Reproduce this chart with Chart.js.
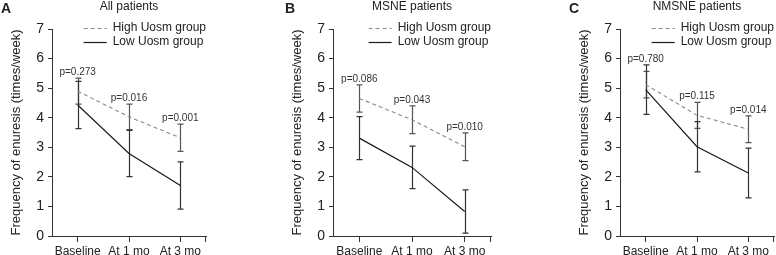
<!DOCTYPE html>
<html><head><meta charset="utf-8">
<script src="https://cdn.jsdelivr.net/npm/chart.js@4"></script>
<style>
html,body{margin:0;padding:0;background:#fff;width:776px;height:255px;overflow:hidden;position:relative}
canvas{position:absolute;top:0}
</style></head><body>
<canvas id="cA" width="208" height="255" style="left:0px"></canvas>
<canvas id="cB" width="212" height="255" style="left:281px"></canvas>
<canvas id="cC" width="208" height="255" style="left:568px"></canvas>
<script>
// ---- data ----
const categories = ['Baseline', 'At 1 mo', 'At 3 mo'];
const seriesNames = ['High Uosm group', 'Low Uosm group'];
const yAxisTitle = 'Frequency of enuresis (times/week)';
const panelTitles = ['All patients', 'MSNE patients', 'NMSNE patients'];
const panelLetters = ['A', 'B', 'C'];

const highA = [4.90, 4.03, 3.32];
const highErrA = [0.44, 0.43, 0.46];
const lowA = [4.43, 2.79, 1.71];
const lowErrA = [0.80, 0.78, 0.80];
const pA = ['p=0.273', 'p=0.016', 'p=0.001'];

const highB = [4.65, 3.93, 3.02];
const highErrB = [0.46, 0.47, 0.47];
const lowB = [3.31, 2.32, 0.83];
const lowErrB = [0.73, 0.72, 0.73];
const pB = ['p=0.086', 'p=0.043', 'p=0.010'];

const highC = [5.12, 4.08, 3.61];
const highErrC = [0.45, 0.44, 0.45];
const lowC = [4.95, 3.02, 2.13];
const lowErrC = [0.84, 0.85, 0.84];
const pC = ['p=0.780', 'p=0.115', 'p=0.014'];

// ---- drawing ----
const FONT = "'Liberation Sans', Arial, Helvetica, sans-serif";
const TXT = '#222';
const AXIS = '#333';

const decor = {
  id: 'decor',
  beforeDatasetsDraw(chart) {
    const ctx = chart.ctx, xs = chart.scales.x, ys = chart.scales.y;
    ctx.save();
    chart.data.datasets.forEach(ds => {
      ctx.strokeStyle = ds.errColor;
      ctx.lineWidth = 1.2;
      ds.data.forEach((v, i) => {
        const px = Math.round(xs.getPixelForValue(i)) + 0.5;
        const t = ys.getPixelForValue(v + ds.err[i]);
        const b = ys.getPixelForValue(v - ds.err[i]);
        ctx.beginPath();
        ctx.moveTo(px, t); ctx.lineTo(px, b);
        ctx.moveTo(px - 3, t); ctx.lineTo(px + 3, t);
        ctx.moveTo(px - 3, b); ctx.lineTo(px + 3, b);
        ctx.stroke();
      });
    });
    ctx.restore();
  },
  afterDraw(chart) {
    const o = chart.options.plugins.decor;
    const ctx = chart.ctx, xs = chart.scales.x, ys = chart.scales.y, a = chart.chartArea;
    ctx.save();
    // right-end tick of x axis
    ctx.strokeStyle = AXIS; ctx.lineWidth = 1;
    ctx.beginPath();
    ctx.moveTo(Math.round(a.right) - 0.5, a.bottom); ctx.lineTo(Math.round(a.right) - 0.5, a.bottom + 6);
    ctx.stroke();
    // title
    ctx.fillStyle = TXT;
    ctx.font = '12px ' + FONT;
    ctx.textAlign = 'center'; ctx.textBaseline = 'middle';
    ctx.fillText(o.title, (a.left + a.right) / 2, 7);
    // letter
    ctx.font = 'bold 14px ' + FONT;
    ctx.textAlign = 'left'; ctx.textBaseline = 'middle';
    ctx.fillText(o.letter, o.letterX, 9);
    // legend
    ctx.font = '12px ' + FONT;
    const w = Math.max(...seriesNames.map(s => ctx.measureText(s).width));
    const tx = a.right - w;
    const rows = [28, 42];
    chart.data.datasets.forEach((ds, k) => {
      ctx.strokeStyle = ds.borderColor; ctx.lineWidth = ds.borderWidth;
      ctx.setLineDash(ds.borderDash || []);
      ctx.beginPath();
      ctx.moveTo(tx - 29, rows[k] + 0.5); ctx.lineTo(tx - 6, rows[k] + 0.5);
      ctx.stroke();
      ctx.setLineDash([]);
      ctx.fillStyle = TXT;
      ctx.textAlign = 'left'; ctx.textBaseline = 'middle';
      ctx.fillText(ds.label, tx, rows[k]);
    });
    // p-values
    ctx.font = '10px ' + FONT;
    ctx.textAlign = 'center'; ctx.textBaseline = 'middle';
    ctx.fillStyle = '#333';
    o.pvals.forEach((p, i) => {
      let top = -Infinity;
      chart.data.datasets.forEach(ds => { top = Math.max(top, ds.data[i] + ds.err[i]); });
      ctx.fillText(p, xs.getPixelForValue(i), ys.getPixelForValue(top) - 6);
    });
    ctx.restore();
  }
};

function makePanel(id, k, high, highErr, low, lowErr, pvals, letterX) {
  return new Chart(document.getElementById(id), {
    type: 'line',
    data: {
      labels: categories,
      datasets: [
        { label: seriesNames[0], data: high, err: highErr, borderColor: '#8a8a8a', borderWidth: 1.1,
          borderDash: [4, 3], pointRadius: 0, fill: false, tension: 0, errColor: '#555' },
        { label: seriesNames[1], data: low, err: lowErr, borderColor: '#1a1a1a', borderWidth: 1.2,
          pointRadius: 0, fill: false, tension: 0, errColor: '#333' }
      ]
    },
    options: {
      responsive: false, animation: false, devicePixelRatio: 1,
      layout: { padding: { top: 29, right: 2, bottom: 0, left: 0 } },
      plugins: {
        legend: { display: false }, title: { display: false }, tooltip: { enabled: false },
        decor: { title: panelTitles[k], letter: panelLetters[k], pvals: pvals, letterX: letterX }
      },
      scales: {
        x: {
          type: 'category', offset: true,
          grid: { display: true, drawOnChartArea: false, tickLength: 6, color: AXIS, offset: false },
          border: { display: true, color: AXIS, width: 1 },
          ticks: { color: TXT, font: { family: FONT, size: 12 }, padding: 2, maxRotation: 0, autoSkip: false },
          afterFit(s) { s.height = 19; }
        },
        y: {
          min: 0, max: 7,
          grid: { display: true, drawOnChartArea: false, tickLength: 4, color: AXIS },
          border: { display: true, color: AXIS, width: 1 },
          ticks: { stepSize: 1, color: TXT, font: { family: FONT, size: 14 }, padding: 4 },
          title: { display: true, text: yAxisTitle, color: TXT, font: { family: FONT, size: 13 }, padding: { top: 9, bottom: 0 } },
          afterFit(s) { s.width = 52; }
        }
      }
    },
    plugins: [decor]
  });
}

makePanel('cA', 0, highA, highErrA, lowA, lowErrA, pA, 1);
makePanel('cB', 1, highB, highErrB, lowB, lowErrB, pB, 4);
makePanel('cC', 2, highC, highErrC, lowC, lowErrC, pC, 1);
</script>
</body></html>
